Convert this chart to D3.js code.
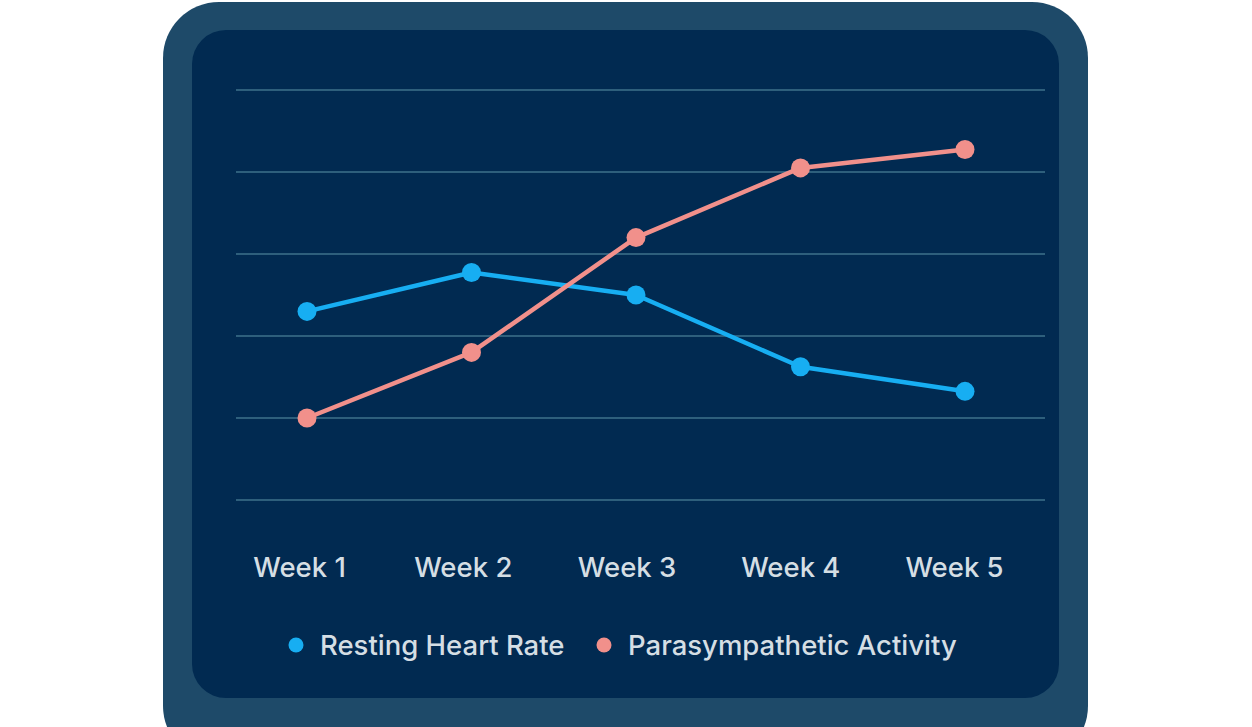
<!DOCTYPE html>
<html>
<head>
<meta charset="utf-8">
<script src="https://cdn.jsdelivr.net/npm/d3@7"></script>
<style>
  html, body { margin: 0; padding: 0; background: #ffffff; }
  svg { display: block; }
  text { font-family: Inter, "Open Sans", sans-serif; font-weight: 500; }
</style>
</head>
<body>
<script>
const weeks = ['Week 1', 'Week 2', 'Week 3', 'Week 4', 'Week 5'];
const restingHeartRate = [46, 55.5, 50, 32.5, 26.5];
const parasympathetic = [20, 36, 64, 81, 85.5];
const yTicks = [0, 20, 40, 60, 80, 100];
const seriesNames = ['Resting Heart Rate', 'Parasympathetic Activity'];

const w = 1252, h = 727;
const colors = ['#17aef2', '#f1908b'];

const svg = d3.select('body').append('svg')
  .attr('width', w)
  .attr('height', h);

// card frame
svg.append('rect')
  .attr('x', 163).attr('y', 2)
  .attr('width', 925).attr('height', 760)
  .attr('rx', 56)
  .attr('fill', '#1e4a69');
svg.append('rect')
  .attr('x', 192).attr('y', 30)
  .attr('width', 867).attr('height', 668)
  .attr('rx', 34)
  .attr('fill', '#012a51');

const xscale = d3.scalePoint()
  .domain(weeks)
  .range([307, 965]);

const xlabel = d3.scalePoint()
  .domain(weeks)
  .range([299, 954]);

const yscale = d3.scaleLinear()
  .domain([0, 100])
  .range([500, 90]);

// gridlines
svg.append('g')
  .selectAll('line')
  .data(yTicks)
  .enter()
  .append('line')
    .attr('x1', 236)
    .attr('x2', 1045)
    .attr('y1', d => yscale(d))
    .attr('y2', d => yscale(d))
    .attr('stroke', '#2e5f7c')
    .attr('stroke-width', 2);

// x axis labels
const xaxis = d3.axisBottom(xlabel).tickSize(0).tickPadding(0);
const gx = svg.append('g')
  .attr('transform', 'translate(0,577)')
  .call(xaxis);
gx.select('.domain').remove();
gx.selectAll('text')
  .attr('dy', 0)
  .attr('fill', '#d5dee4')
  .style('font-size', '27.5px')
  .style('font-weight', 500)
  .style('font-family', 'Inter, sans-serif');

const line = d3.line()
  .x((d, i) => xscale(weeks[i]))
  .y(d => yscale(d));

[restingHeartRate, parasympathetic].forEach((series, s) => {
  svg.append('path')
    .datum(series)
    .attr('fill', 'none')
    .attr('stroke', colors[s])
    .attr('stroke-width', 4.5)
    .attr('stroke-linejoin', 'round')
    .attr('d', line);
  svg.append('g')
    .selectAll('circle')
    .data(series)
    .enter()
    .append('circle')
      .attr('cx', (d, i) => xscale(weeks[i]))
      .attr('cy', d => yscale(d))
      .attr('r', 9.5)
      .attr('fill', colors[s]);
});

// legend
const legendX = [296, 604];
const legend = svg.append('g').selectAll('g.item')
  .data(seriesNames)
  .enter()
  .append('g')
    .attr('class', 'item')
    .attr('transform', (d, i) => 'translate(' + legendX[i] + ',655)');
legend.append('circle')
  .attr('cx', 0).attr('cy', -10)
  .attr('r', 7.5)
  .attr('fill', (d, i) => colors[i]);
legend.append('text')
  .attr('x', 24)
  .attr('fill', '#d5dee4')
  .style('font-size', '27.5px')
  .text(d => d);
</script>
</body>
</html>
